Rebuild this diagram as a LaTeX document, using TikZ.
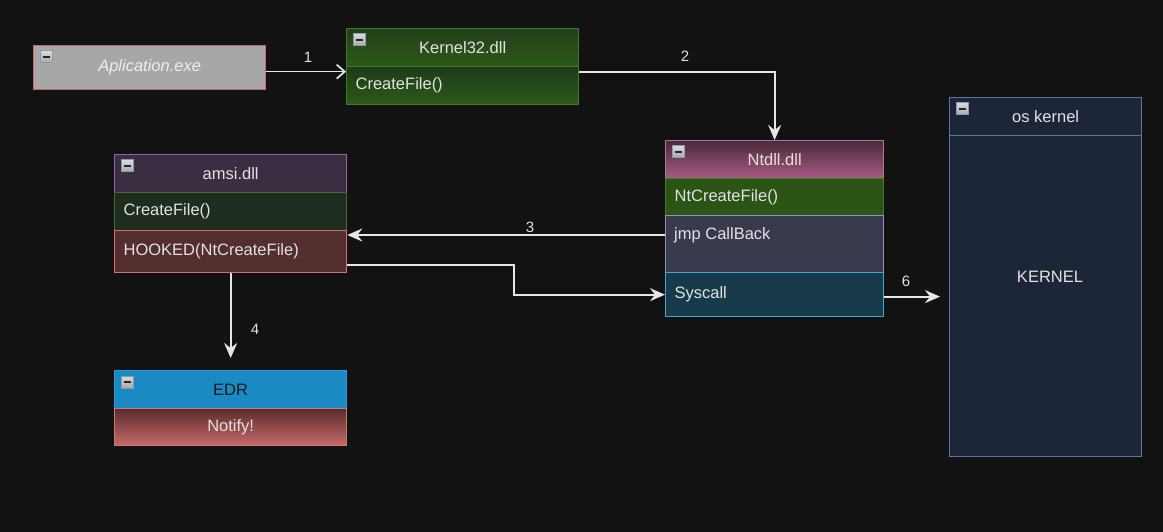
\documentclass[tikz,border=0pt]{standalone}
\usepackage{fontspec}
\setmainfont{Liberation Sans}
\usetikzlibrary{arrows.meta}
\definecolor{bg}{HTML}{121212}
\definecolor{txt}{HTML}{E2E2E2}
\definecolor{ln}{HTML}{E6E6E6}
\definecolor{appfill}{HTML}{A7A7A7}
\definecolor{appdraw}{HTML}{C96666}
\definecolor{apptxt}{HTML}{EEEEEE}
\definecolor{kgtop}{HTML}{243F1C}
\definecolor{kgbot}{HTML}{2C5A17}
\definecolor{kgdraw}{HTML}{3D7A2A}
\definecolor{krtop}{HTML}{1F3A19}
\definecolor{nhtop}{HTML}{4A2A3A}
\definecolor{nhbot}{HTML}{A85C84}
\definecolor{nhdraw}{HTML}{B07494}
\definecolor{n1fill}{HTML}{2A5514}
\definecolor{n1draw}{HTML}{467A2C}
\definecolor{n2fill}{HTML}{3A3A4E}
\definecolor{n2draw}{HTML}{9C8CB8}
\definecolor{n3fill}{HTML}{173B4B}
\definecolor{n3draw}{HTML}{4BA2CC}
\definecolor{ahfill}{HTML}{3B2D42}
\definecolor{ahdraw}{HTML}{8A6AA0}
\definecolor{a1fill}{HTML}{1E2D1E}
\definecolor{a1draw}{HTML}{40702C}
\definecolor{a2fill}{HTML}{542E2E}
\definecolor{a2draw}{HTML}{D07070}
\definecolor{ehfill}{HTML}{1A8AC4}
\definecolor{ehdraw}{HTML}{2A9AD4}
\definecolor{ehtxt}{HTML}{1A1A1A}
\definecolor{ertop}{HTML}{5A2C2C}
\definecolor{erbot}{HTML}{C86A6A}
\definecolor{erdraw}{HTML}{D07878}
\definecolor{osfill}{HTML}{1D2638}
\definecolor{osdraw}{HTML}{5878A6}
\definecolor{icdraw}{HTML}{8A9AB0}
\definecolor{ictop}{HTML}{DADADA}
\definecolor{icbot}{HTML}{A8A8A8}
\newcommand{\fnt}{\fontsize{16.5}{19}\selectfont}
\newcommand{\lfnt}{\fontsize{15}{17}\selectfont}
\newcommand{\mkicon}[1]{%
  \draw[iconbox] ([shift={(7,6)}]#1.north west) rectangle ++(12,12);
  \draw[iconbar] ([shift={(9.5,12)}]#1.north west) -- ++(7,0);}
\begin{document}
\begin{tikzpicture}[x=1pt,y=-1pt,
  box/.style={draw, rectangle, anchor=north west, inner xsep=9pt, inner ysep=0pt,
    line width=1.3pt, font=\fnt, text=txt},
  hdr/.style={box, minimum width=#1},
  lrow/.style={box, text width=#1, align=left},
  iconbox/.style={draw=icdraw, line width=1pt, top color=ictop, bottom color=icbot},
  iconbar/.style={line width=1.8pt, draw=black!85},
  conn/.style={draw=ln, line width=1.7pt, -{Stealth[length=15pt,width=13pt,inset=5pt]}},
  lbl/.style={font=\lfnt, text=txt},
]
\useasboundingbox (0,0) rectangle (1163,532);
\fill[bg] (0,0) rectangle (1163,532);

% Aplication.exe
\node[hdr=232, minimum height=44, fill=appfill, draw=appdraw, font=\fnt\itshape, text=apptxt] (app) at (33,45) {Aplication.exe};

% Kernel32.dll
\node[hdr=232, minimum height=38, top color=kgtop, bottom color=kgbot, draw=kgdraw] (k32h) at (346,28) {Kernel32.dll};
\node[lrow=214, minimum height=38, top color=krtop, bottom color=kgbot, draw=kgdraw] (k32r) at (346,66) {CreateFile()};

% Ntdll.dll
\node[hdr=218, minimum height=38, top color=nhtop, bottom color=nhbot, draw=nhdraw] (nth) at (665,140) {Ntdll.dll};
\node[lrow=200, minimum height=37, fill=n1fill, draw=n1draw] (ntr1) at (665,178) {NtCreateFile()};
\node[lrow=200, minimum height=57, fill=n2fill, draw=n2draw] (ntr2) at (665,215) {};
\node[font=\fnt, text=txt, anchor=west, inner sep=0pt] (jmp) at (674,235) {jmp CallBack};
\node[lrow=200, minimum height=44, fill=n3fill, draw=n3draw] (ntr3) at (665,272) {Syscall};

% amsi.dll
\node[hdr=232, minimum height=38, fill=ahfill, draw=ahdraw] (amh) at (114,154) {amsi.dll};
\node[lrow=214, minimum height=38, fill=a1fill, draw=a1draw] (amr1) at (114,192) {CreateFile()};
\node[lrow=214, minimum height=42, fill=a2fill, draw=a2draw] (amr2) at (114,230) {HOOKED(NtCreateFile)};

% EDR
\node[hdr=232, minimum height=38, fill=ehfill, draw=ehdraw, text=ehtxt] (edrh) at (114,370) {EDR};
\node[hdr=232, minimum height=37, top color=ertop, bottom color=erbot, draw=erdraw] (edrr) at (114,408) {Notify!};

% os kernel
\node[hdr=192, minimum height=38, fill=osfill, draw=osdraw] (kh) at (949,97) {os kernel};
\node[hdr=192, minimum height=321, fill=osfill, draw=osdraw] (kb) at (949,135) {};
\node[font=\fnt, text=txt, inner sep=0pt] (ktxt) at (1050,277) {KERNEL};

% icons
\mkicon{app}
\mkicon{k32h}
\mkicon{nth}
\mkicon{amh}
\mkicon{edrh}
\mkicon{kh}

% connectors
\draw[draw=ln, line width=1.7pt, -{Straight Barb[length=8pt,width=14pt]}] ([yshift=-4pt]app.east) -- ([yshift=-4pt]k32h.west |- app.east);
\node[lbl] (l1) at (308,57) {1};

\draw[conn] ([yshift=-5pt]k32h.south east) -| (nth.north);
\node[lbl] (l2) at (685,56) {2};

\draw[conn] (ntr2.west |- jmp.west) -- (amr2.east |- jmp.west);
\node[lbl] (l3) at (530,227) {3};

\draw[conn, shorten >=12pt] (amr2.south) -- (edrh.north);
\node[lbl] (l4) at (255,329) {4};

\draw[conn] ([yshift=-13pt]amr2.east) -- ++(167,0) |- (ntr3.west);

\draw[conn, shorten >=9pt] ([yshift=-2pt]ntr3.east) -- ([yshift=-2pt]kb.west |- ntr3.east);
\node[lbl] (l6) at (906,281) {6};
\end{tikzpicture}
\end{document}
